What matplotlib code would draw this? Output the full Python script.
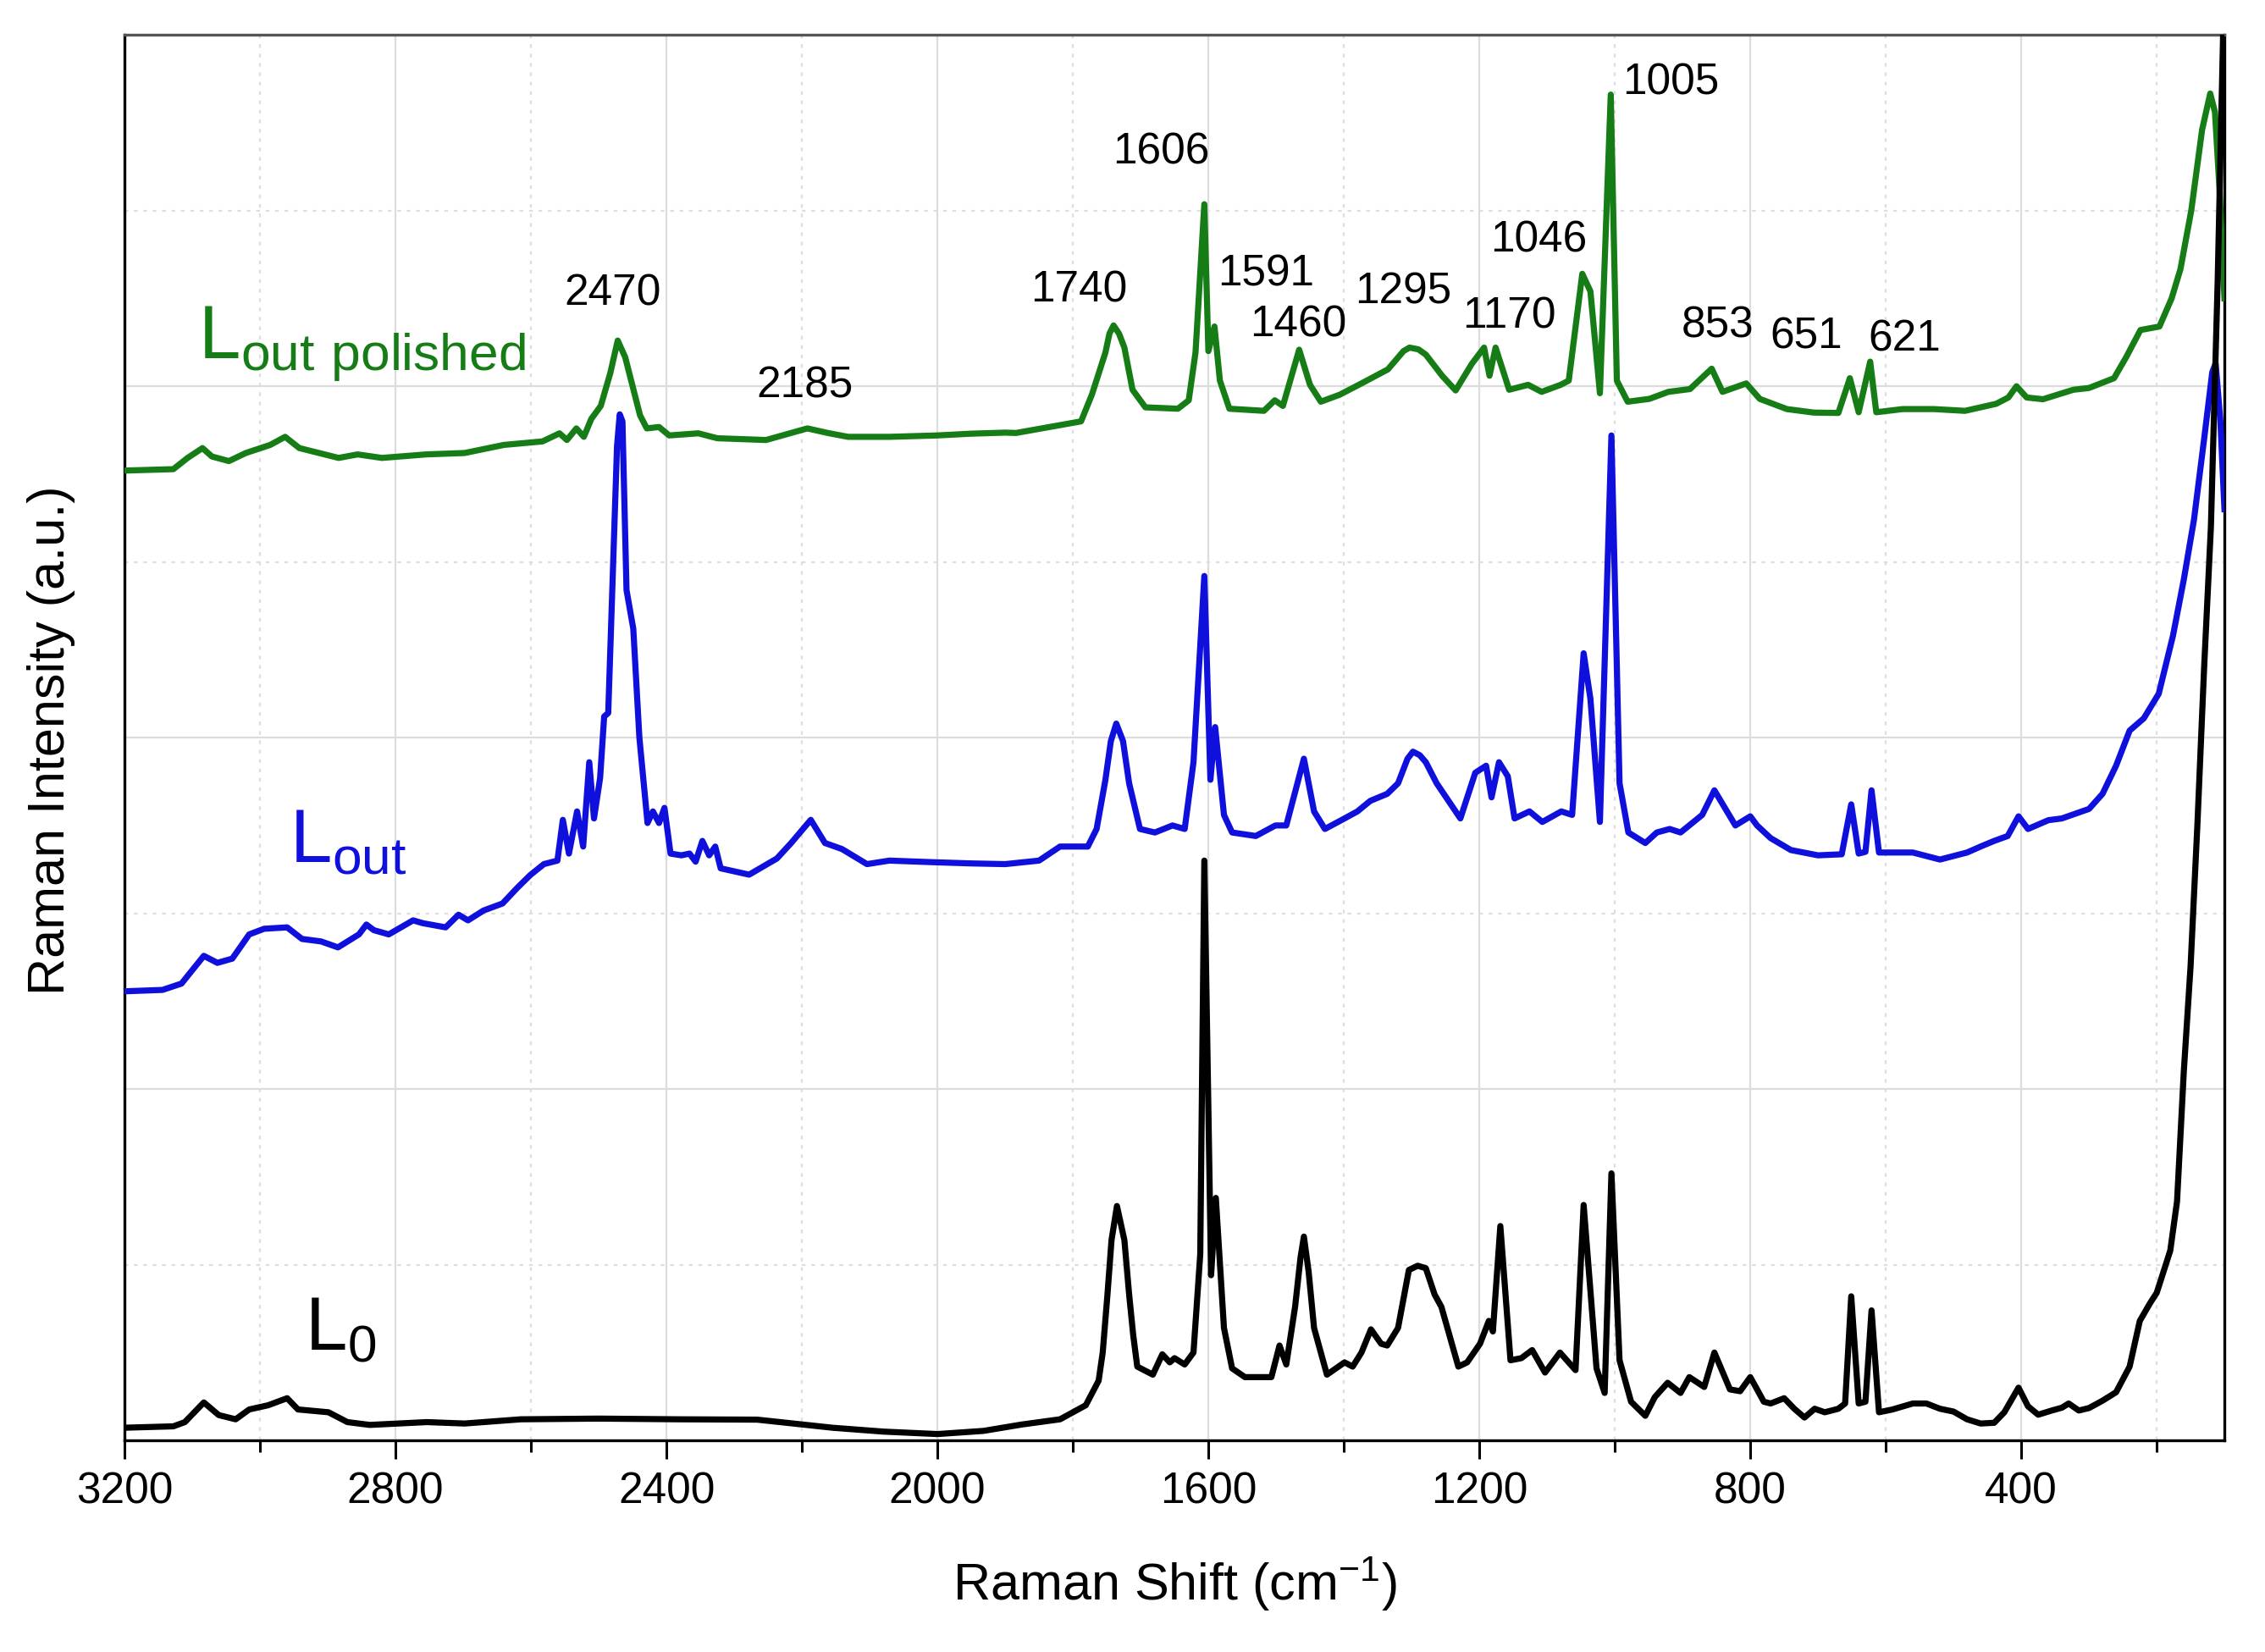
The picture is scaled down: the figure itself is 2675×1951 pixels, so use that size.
import numpy as np
import matplotlib.pyplot as plt
from matplotlib.ticker import MultipleLocator

plt.rcParams['font.family'] = ['Liberation Sans', 'DejaVu Sans']
plt.rcParams['mathtext.default'] = 'regular'

# L0 spectrum (black), offset 0
l0_x = [3200, 3128, 3111, 3083, 3061, 3036, 3016, 2988, 2960, 2944, 2899, 2871, 2838, 2754, 2698,
        2615, 2500, 2382, 2266, 2155, 2080, 2000, 1932, 1876, 1819, 1781, 1762, 1756, 1749, 1743,
        1735, 1724, 1717, 1711, 1705, 1682, 1668, 1657, 1650, 1635, 1622, 1612, 1606, 1596, 1589,
        1577, 1565, 1546, 1507, 1495, 1485, 1472, 1464, 1459, 1452, 1444, 1425, 1399, 1387, 1374,
        1360, 1345, 1336, 1320, 1304, 1291, 1279, 1266, 1256, 1231, 1218, 1199, 1186, 1180, 1169,
        1154, 1138, 1122, 1103, 1081, 1058, 1046, 1027, 1015, 1005, 993, 976, 955, 941, 922, 903,
        890, 868, 853, 830, 815, 800, 780, 770, 750, 735, 720, 705, 690, 670, 660, 651, 640, 630,
        621, 610, 590, 560, 540, 520, 500, 480, 460, 440, 425, 404, 390, 375, 355, 340, 330, 315,
        300, 280, 260, 240, 225, 210, 200, 190, 180, 170, 160, 150, 140, 130, 120, 110, 102, 100]
l0_y = [0.036, 0.040, 0.052, 0.108, 0.072, 0.060, 0.088, 0.100, 0.120, 0.088, 0.080, 0.052, 0.044,
        0.052, 0.048, 0.060, 0.062, 0.060, 0.059, 0.036, 0.025, 0.018, 0.027, 0.045, 0.060, 0.100,
        0.170, 0.250, 0.415, 0.570, 0.667, 0.570, 0.415, 0.300, 0.210, 0.187, 0.245, 0.222, 0.234,
        0.216, 0.250, 0.530, 1.650, 0.470, 0.690, 0.320, 0.205, 0.180, 0.180, 0.270, 0.216, 0.380,
        0.520, 0.580, 0.480, 0.320, 0.187, 0.222, 0.210, 0.250, 0.316, 0.275, 0.270, 0.320, 0.485,
        0.497, 0.490, 0.415, 0.380, 0.210, 0.222, 0.275, 0.340, 0.310, 0.610, 0.228, 0.234, 0.257,
        0.193, 0.250, 0.200, 0.670, 0.205, 0.135, 0.760, 0.228, 0.110, 0.070, 0.123, 0.164, 0.135,
        0.180, 0.152, 0.250, 0.145, 0.140, 0.180, 0.110, 0.105, 0.120, 0.090, 0.065, 0.090, 0.080,
        0.090, 0.105, 0.410, 0.105, 0.110, 0.370, 0.080, 0.088, 0.105, 0.105, 0.090, 0.082, 0.060,
        0.048, 0.050, 0.080, 0.150, 0.097, 0.073, 0.085, 0.093, 0.105, 0.085, 0.092, 0.113, 0.137,
        0.210, 0.340, 0.390, 0.420, 0.480, 0.540, 0.680, 1.050, 1.350, 1.750, 2.200, 2.600, 3.300,
        4.000, 4.200]

# Lout spectrum (blue)
lout_x = [3200, 3144, 3116, 3083, 3063, 3041, 3016, 2994, 2960, 2938, 2910, 2885, 2854, 2843, 2832,
          2810, 2774, 2760, 2726, 2707, 2693, 2670, 2642, 2620, 2601, 2581, 2561, 2553, 2544, 2532,
          2523, 2514, 2507, 2498, 2492, 2486, 2480, 2473, 2469, 2465, 2459, 2449, 2440, 2428, 2420,
          2411, 2403, 2394, 2378, 2366, 2357, 2347, 2337, 2328, 2320, 2278, 2237, 2216, 2187, 2166,
          2141, 2104, 2071, 2000, 1950, 1900, 1850, 1819, 1778, 1765, 1752, 1744, 1736, 1726, 1717,
          1701, 1679, 1653, 1635, 1622, 1606, 1597, 1590, 1577, 1565, 1530, 1501, 1485, 1470, 1459,
          1444, 1428, 1399, 1380, 1361, 1336, 1320, 1306, 1298, 1288, 1279, 1263, 1228, 1206, 1190,
          1182, 1171, 1158, 1148, 1126, 1107, 1079, 1063, 1046, 1036, 1022, 1005, 993, 980, 955, 938,
          919, 903, 871, 853, 822, 800, 790, 770, 740, 700, 665, 651, 640, 630, 621, 610, 590, 560,
          520, 480, 460, 440, 420, 404, 390, 360, 340, 300, 280, 260, 240, 219, 197, 176, 160, 145,
          130, 118, 113, 106, 100]
lout_y = [1.278, 1.282, 1.300, 1.379, 1.359, 1.371, 1.440, 1.456, 1.460, 1.427, 1.420, 1.403, 1.440,
          1.468, 1.452, 1.440, 1.480, 1.472, 1.460, 1.496, 1.480, 1.508, 1.528, 1.573, 1.609, 1.640,
          1.650, 1.766, 1.670, 1.790, 1.690, 1.930, 1.770, 1.885, 2.060, 2.070, 2.420, 2.830, 2.920,
          2.900, 2.420, 2.310, 2.000, 1.757, 1.790, 1.757, 1.800, 1.670, 1.665, 1.670, 1.647, 1.706,
          1.665, 1.690, 1.628, 1.610, 1.656, 1.700, 1.766, 1.700, 1.683, 1.640, 1.650, 1.645, 1.642,
          1.640, 1.650, 1.690, 1.690, 1.740, 1.880, 1.990, 2.040, 1.990, 1.870, 1.740, 1.730, 1.750,
          1.740, 1.930, 2.460, 1.880, 2.030, 1.780, 1.730, 1.720, 1.750, 1.750, 1.860, 1.940, 1.790,
          1.740, 1.770, 1.790, 1.820, 1.840, 1.870, 1.940, 1.960, 1.950, 1.930, 1.870, 1.770, 1.900,
          1.920, 1.830, 1.930, 1.890, 1.770, 1.790, 1.760, 1.790, 1.780, 2.240, 2.110, 1.760, 2.860,
          1.870, 1.730, 1.700, 1.730, 1.740, 1.730, 1.780, 1.850, 1.750, 1.776, 1.750, 1.714, 1.680,
          1.665, 1.668, 1.810, 1.670, 1.675, 1.850, 1.673, 1.673, 1.673, 1.653, 1.673, 1.690, 1.706,
          1.720, 1.776, 1.740, 1.765, 1.770, 1.797, 1.840, 1.920, 2.020, 2.055, 2.125, 2.290, 2.450,
          2.620, 2.850, 3.040, 3.065, 2.900, 2.650]

# Lout polished spectrum (green)
lpol_x = [3200, 3128, 3107, 3085, 3071, 3046, 3021, 2985, 2963, 2942, 2884, 2856, 2820, 2755, 2698,
          2640, 2583, 2558, 2547, 2533, 2522, 2511, 2497, 2483, 2472, 2461, 2439, 2429, 2411, 2396,
          2353, 2325, 2253, 2216, 2192, 2162, 2132, 2071, 2000, 1950, 1900, 1884, 1788, 1772, 1752,
          1746, 1740, 1732, 1724, 1712, 1693, 1645, 1629, 1619, 1606, 1600, 1591, 1583, 1569, 1518,
          1502, 1490, 1466, 1450, 1434, 1406, 1374, 1335, 1312, 1303, 1290, 1279, 1255, 1235, 1211,
          1193, 1185, 1176, 1156, 1128, 1108, 1080, 1068, 1048, 1036, 1022, 1006, 997, 981, 949, 921,
          889, 857, 841, 806, 786, 746, 706, 670, 653, 640, 623, 614, 575, 529, 483, 437, 419, 407,
          392, 368, 323, 300, 263, 245, 224, 196, 178, 165, 149, 133, 121, 114, 107, 100]
lpol_y = [2.760, 2.764, 2.796, 2.824, 2.800, 2.787, 2.810, 2.833, 2.856, 2.824, 2.796, 2.806, 2.796,
          2.806, 2.810, 2.833, 2.843, 2.866, 2.847, 2.880, 2.856, 2.907, 2.944, 3.037, 3.130, 3.083,
          2.917, 2.880, 2.884, 2.860, 2.866, 2.852, 2.847, 2.867, 2.880, 2.867, 2.856, 2.856, 2.860,
          2.865, 2.868, 2.867, 2.900, 2.976, 3.096, 3.150, 3.173, 3.150, 3.110, 2.990, 2.940, 2.936,
          2.960, 3.096, 3.518, 3.100, 3.170, 3.016, 2.936, 2.930, 2.960, 2.944, 3.104, 3.004, 2.956,
          2.976, 3.008, 3.048, 3.100, 3.110, 3.105, 3.090, 3.030, 2.988, 3.064, 3.110, 3.030, 3.110,
          2.990, 3.004, 2.984, 3.004, 3.016, 3.320, 3.270, 2.980, 3.830, 3.016, 2.956, 2.964, 2.984,
          2.992, 3.050, 2.984, 3.008, 2.964, 2.935, 2.925, 2.924, 3.023, 2.926, 3.070, 2.926, 2.935,
          2.935, 2.930, 2.950, 2.968, 3.000, 2.968, 2.963, 2.990, 2.995, 3.023, 3.083, 3.160, 3.170,
          3.250, 3.333, 3.500, 3.730, 3.833, 3.780, 3.550, 3.250]

# peak labels: text, x, y (label centre)
peak_text = ['2470', '2185', '1740', '1606', '1591', '1460', '1295', '1170', '1046', '1005',
             '853', '651', '621']
peak_x = [2479, 2196, 1791, 1670, 1515, 1467, 1313, 1156, 1112, 917, 848, 718, 572]
peak_y = [3.262, 3.000, 3.272, 3.666, 3.318, 3.173, 3.268, 3.197, 3.416, 3.862, 3.171, 3.139, 3.132]

fig = plt.figure(figsize=(26.75, 19.51), dpi=100)
ax = fig.add_axes([0.0550, 0.1281, 0.9271, 0.8508])

ax.plot(lpol_x, lpol_y, color='#167c16', lw=5.2, solid_joinstyle='round', zorder=3)
ax.plot(lout_x, lout_y, color='#1010dc', lw=5.2, solid_joinstyle='round', zorder=4)
ax.plot(l0_x, l0_y, color='black', lw=5.2, solid_joinstyle='round', zorder=5)

ax.set_xlim(3200, 100)
ax.set_ylim(0, 4)
ax.xaxis.set_major_locator(MultipleLocator(400))
ax.xaxis.set_minor_locator(MultipleLocator(200))
ax.yaxis.set_major_locator(MultipleLocator(1))
ax.yaxis.set_minor_locator(MultipleLocator(0.5))
ax.set_xticks([3200, 2800, 2400, 2000, 1600, 1200, 800, 400])
ax.grid(which='major', color='#dcdcdc', lw=1.6, zorder=0)
ax.grid(which='minor', color='#dedede', lw=1.6, ls=(0, (2, 3)), zorder=0)
ax.set_axisbelow(True)

ax.tick_params(axis='x', which='major', direction='out', length=16, width=2.2, labelsize=37, pad=10)
ax.tick_params(axis='x', which='minor', direction='out', length=10, width=2.2)
ax.tick_params(axis='y', which='both', left=False, labelleft=False)
for side in ['left', 'right', 'bottom']:
    ax.spines[side].set_linewidth(2.4)
    ax.spines[side].set_color('black')
ax.spines['top'].set_linewidth(2.4)
ax.spines['top'].set_color('#555555')

ax.set_xlabel(r'Raman Shift (cm$^{\mathregular{-1}}$)', fontsize=44, va='center')
ax.xaxis.set_label_coords(0.5, -0.102)
ax.set_ylabel('Raman Intensity (a.u.)', fontsize=44, va='center')
ax.yaxis.set_label_coords(-0.035, 0.498)

for t, x, y in zip(peak_text, peak_x, peak_y):
    ax.text(x, y, t, fontsize=37, ha='center', va='center', zorder=6)

ax.text(3092, 3.079, r'$L_{out\ polished}$', fontsize=64, color='#167c16', ha='left', va='baseline')
ax.text(2957, 1.645, r'$L_{out}$', fontsize=64, color='#1010dc', ha='left', va='baseline')
ax.text(2934, 0.256, r'$L_0$', fontsize=64, color='black', ha='left', va='baseline')

fig.savefig('out.png', dpi=100)
plt.close()
